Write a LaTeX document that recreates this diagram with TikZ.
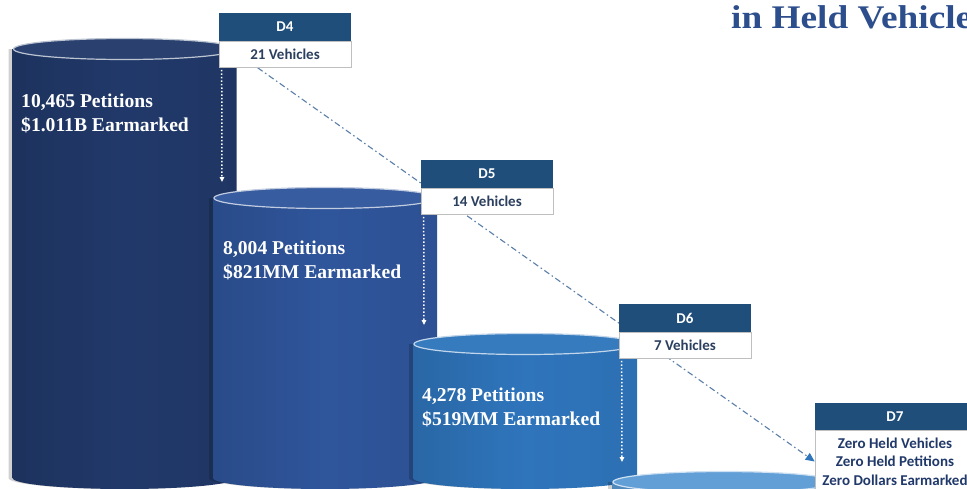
\documentclass[tikz,border=0pt]{standalone}
\usepackage{fontspec}
\setmainfont{Liberation Serif}
\newfontfamily\boxfont{Carlito}
\usepackage{graphicx}
\usetikzlibrary{arrows.meta,calc,positioning}
\definecolor{navyA}{HTML}{21396A}
\definecolor{navyB}{HTML}{2F559B}
\definecolor{navyC}{HTML}{2F75BC}
\definecolor{navyD}{HTML}{5B9BD5}
\definecolor{boxblue}{HTML}{1F4E7A}
\definecolor{inkblue}{HTML}{2B3F5E}
\definecolor{linkblue}{HTML}{5B7FA8}
\definecolor{titleblue}{HTML}{2D4E8C}
\pgfdeclarelayer{back}
\pgfsetlayers{back,main}

\begin{document}
\begin{tikzpicture}[x=1pt,y=-1pt,inner sep=0pt,
  hdr/.style={fill=boxblue,text=white,font=\boxfont\fontsize{15}{18}\selectfont\bfseries,
    minimum width=132pt,minimum height=28pt},
  val/.style={fill=white,draw=gray!50,line width=.6pt,text=inkblue,
    font=\boxfont\fontsize{15}{18.5}\selectfont\bfseries,minimum width=132pt,minimum height=26pt},
  amount/.style={text=white,align=left,anchor=north west,font=\fontsize{19.6}{23.5}\selectfont\bfseries},
  drop/.style={white,dotted,line width=1.5pt,-{Triangle[length=5pt,width=4.5pt]}},
  trend/.style={linkblue,line width=1.1pt,dash pattern=on 6pt off 3pt on 1.5pt off 3pt,
    -{Triangle[length=9pt,width=8pt,color=navyC]}}]

\useasboundingbox (0,0) rectangle (967,488);
\begin{pgfonlayer}{back}
\fill[white] (0,0) rectangle (967,488);
\end{pgfonlayer}

% cylinders
\foreach \cx/\cy/\by/\col in {124.5/49/478/navyA,325/198/478/navyB,525/344/478/navyC,724/482/500/navyD}{
  \fill[black,opacity=.18] (\cx-116,\cy) -- (\cx-116,\by)
    arc[start angle=180,end angle=0,x radius=112,y radius=11] -- (\cx+108,\cy) -- cycle;
  \shade[left color=\col!88!black,right color=\col!95!black,middle color=\col]
    (\cx-112,\cy) -- (\cx-112,\by)
    arc[start angle=180,end angle=0,x radius=112,y radius=11] -- (\cx+112,\cy) -- cycle;
  \draw[fill=\col!96!white,draw=white!70!\col,line width=1.2pt]
    (\cx,\cy) ellipse[x radius=111,y radius=10.5];
}

\node[amount] (p1) at (21,94) {10,465 Petitions\\\$1.011B Earmarked};
\node[amount] (p2) at (223,241) {8,004 Petitions\\\$821MM Earmarked};
\node[amount] (p3) at (422,388) {4,278 Petitions\\\$519MM Earmarked};

\node[anchor=base west,text=titleblue,font=\fontsize{33}{36}\selectfont\bfseries] (ttl)
  at (731,28) {\scalebox{1.13}[1]{in Held Vehicle}};

% district boxes
\node[hdr] (h4) at (285,27) {D4};
\node[val,below=0pt of h4] (v4) {21 Vehicles};
\node[hdr] (h5) at (487,174) {D5};
\node[val,below=0pt of h5] (v5) {14 Vehicles};
\node[hdr] (h6) at (685,318) {D6};
\node[val,below=0pt of h6] (v6) {7 Vehicles};
\node[hdr,minimum width=160pt,minimum height=27pt] (h7) at (895,416.5) {D7};
\node[val,below=0pt of h7,minimum width=160pt,minimum height=62pt,align=center,text=navyA]
  (v7) {Zero Held Vehicles\\Zero Held Petitions\\Zero Dollars Earmarked};

\coordinate (e4) at (222,182);
\coordinate (e5) at (424,325);
\coordinate (e6) at (622,462);
\draw[drop] ($(v4.south west)+(3,2)$) -- (e4);
\draw[drop] ($(v5.south west)+(3,2)$) -- (e5);
\draw[drop] ($(v6.south west)+(3,2)$) -- (e6);

\begin{pgfonlayer}{back}
\draw[trend] ($(v4.south west)+(39,0)$) -- (v7.west);
\end{pgfonlayer}

\end{tikzpicture}
\end{document}
